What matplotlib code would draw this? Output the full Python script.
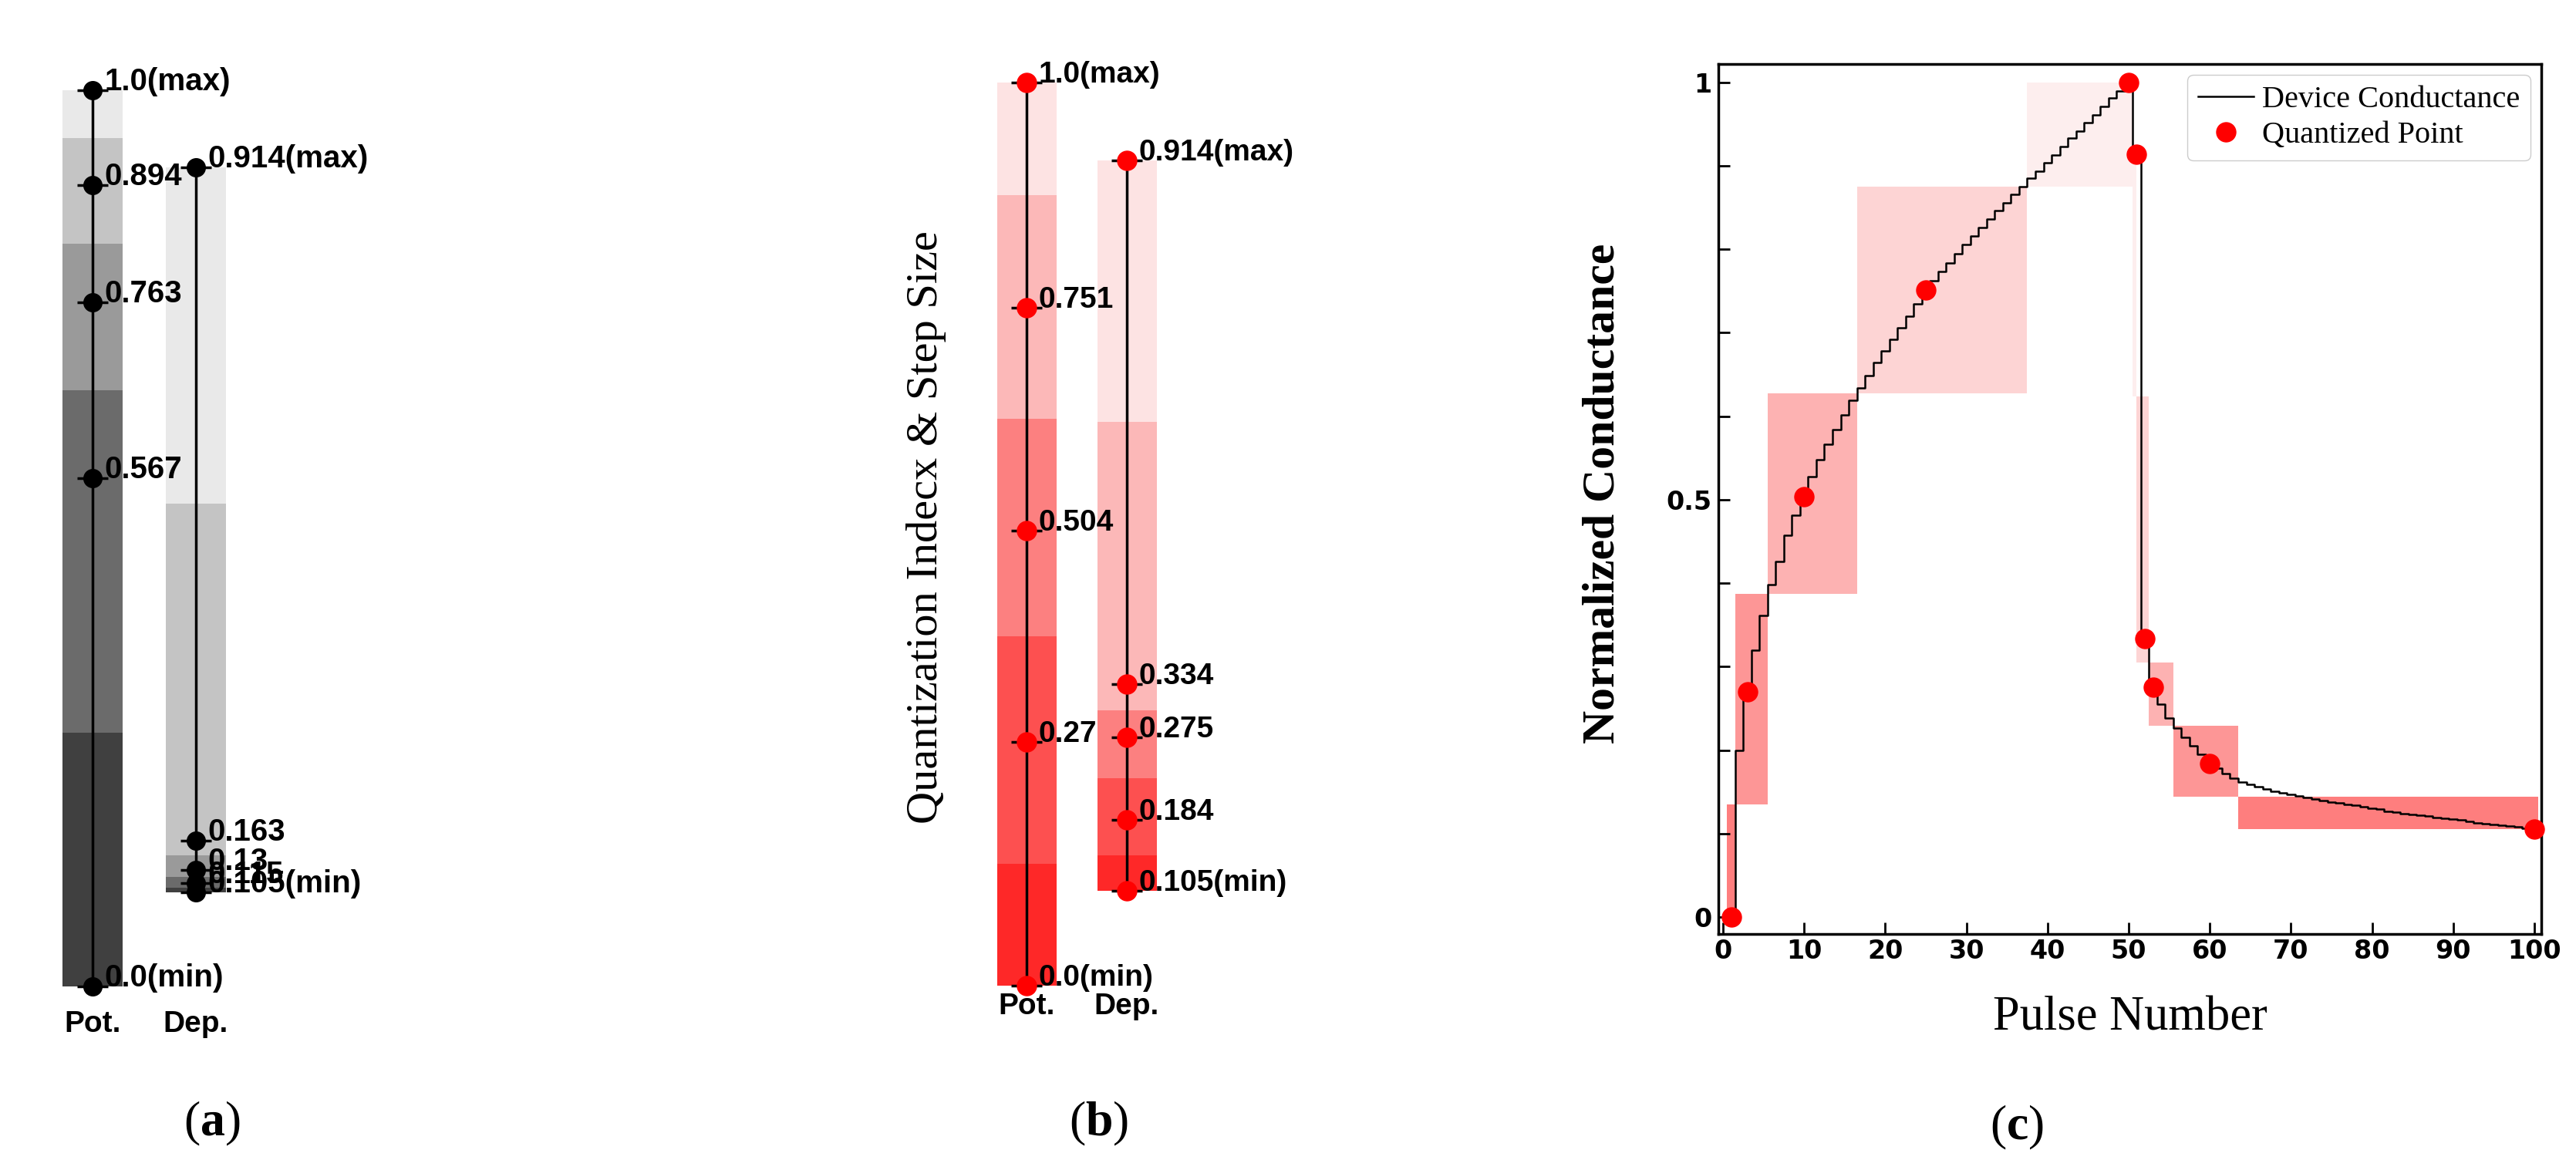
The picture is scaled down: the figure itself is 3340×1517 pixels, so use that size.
import matplotlib.pyplot as plt
import numpy as np
from matplotlib.ticker import MultipleLocator

plt.rcParams['mathtext.fontset'] = 'custom'
plt.rcParams['mathtext.rm'] = 'Liberation Serif'
plt.rcParams['mathtext.bf'] = 'Liberation Serif:bold'

# ---- data ----
# (a) uniform quantization levels
pot_levels_a = [1.0, 0.894, 0.763, 0.567, 0.0]
dep_levels_a = [0.914, 0.163, 0.13, 0.115, 0.105]
pot_labels_a = ['1.0(max)', '0.894', '0.763', '0.567', '0.0(min)']
dep_labels_a = ['0.914(max)', '0.163', '0.13', '0.115', '0.105(min)']

# (b) proposed quantization levels
pot_levels_b = [1.0, 0.751, 0.504, 0.27, 0.0]
dep_levels_b = [0.914, 0.334, 0.275, 0.184, 0.105]
pot_labels_b = ['1.0(max)', '0.751', '0.504', '0.27', '0.0(min)']
dep_labels_b = ['0.914(max)', '0.334', '0.275', '0.184', '0.105(min)']

# (c) device conductance per pulse
pulse_pot = list(range(1, 51))
g_pot = [0.0, 0.2, 0.27, 0.32, 0.361, 0.398, 0.426, 0.457, 0.481, 0.504,
         0.528, 0.548, 0.566, 0.584, 0.602, 0.619, 0.634, 0.649, 0.664, 0.678,
         0.692, 0.706, 0.72, 0.735, 0.751, 0.762, 0.773, 0.784, 0.795, 0.806,
         0.816, 0.826, 0.836, 0.846, 0.856, 0.866, 0.875, 0.885, 0.894, 0.904,
         0.913, 0.923, 0.933, 0.942, 0.952, 0.961, 0.971, 0.981, 0.99, 1.0]
pulse_dep = list(range(51, 101))
g_dep = [0.914, 0.334, 0.275, 0.255, 0.238, 0.226, 0.215, 0.205, 0.195, 0.184,
         0.178, 0.172, 0.166, 0.162, 0.159, 0.156, 0.153, 0.151, 0.149, 0.147,
         0.145, 0.143, 0.141, 0.14, 0.138, 0.137, 0.135, 0.134, 0.132, 0.13,
         0.129, 0.127, 0.126, 0.124, 0.123, 0.122, 0.121, 0.119, 0.118, 0.117,
         0.116, 0.115, 0.113, 0.112, 0.111, 0.11, 0.109, 0.108, 0.106, 0.105]
quant_pulses = [1, 3, 10, 25, 50, 51, 52, 53, 60, 100]
quant_g = [0.0, 0.27, 0.504, 0.751, 1.0, 0.914, 0.334, 0.275, 0.184, 0.105]
# pulse range covered by each quantization band (same order as levels)
pot_ranges = [(37.5, 50.5), (16.5, 37.5), (5.5, 16.5), (1.5, 5.5), (0.5, 1.5)]
dep_ranges = [(50.5, 51.0), (51.0, 52.5), (52.5, 55.5), (55.5, 63.5), (63.5, 100.5)]

gray_colors = ['#e9e9e9', '#c4c4c4', '#9a9a9a', '#6b6b6b', '#404040']
red_colors = ['#fde3e3', '#fcb8b8', '#fc8080', '#fd5050', '#fe2828']

W, H = 3341, 1517


def band_edges(levels):
    edges = []
    for i, v in enumerate(levels):
        top = v if i == 0 else (levels[i - 1] + v) / 2
        bot = v if i == len(levels) - 1 else (levels[i + 1] + v) / 2
        edges.append((bot, top))
    return edges


def quant_panel(ax, pots, deps, colors, mcolor, width, ms, fs):
    for xpos, (levels, labels) in enumerate([pots, deps]):
        for (bot, top), c in zip(band_edges(levels), colors):
            ax.bar(xpos, top - bot, bottom=bot, width=width, color=c, linewidth=0, zorder=1)
        ax.plot([xpos, xpos], [min(levels), max(levels)], color='k', lw=2.5, zorder=2, clip_on=False)
        ax.plot([xpos] * len(levels), levels, '_', color='k', ms=29, mew=2.5, zorder=3, clip_on=False)
        ax.plot([xpos] * len(levels), levels, 'o', color=mcolor, ms=ms, zorder=4, clip_on=False)
        for v, t in zip(levels, labels):
            ax.annotate(t, (xpos, v), xytext=(11, 0), textcoords='offset points',
                        ha='left', va='baseline', fontsize=fs, fontweight='bold',
                        family='Liberation Sans', zorder=5, annotation_clip=False)
    ax.set_ylim(0, 1)
    ax.axis('off')


fig = plt.figure(figsize=(W / 100, H / 100), dpi=100)

# (a)
ax_a = fig.add_axes([40 / W, 1 - 1279 / H, 420 / W, (1279 - 117) / H])
quant_panel(ax_a, (pot_levels_a, pot_labels_a), (dep_levels_a, dep_labels_a),
            gray_colors, 'k', 0.58, 17, 29)
ax_a.set_xlim((40 - 120) / 134, (460 - 120) / 134)

# (b)
ax_b = fig.add_axes([1250 / W, 1 - 1278 / H, 450 / W, (1278 - 107) / H])
quant_panel(ax_b, (pot_levels_b, pot_labels_b), (dep_levels_b, dep_labels_b),
            red_colors, 'red', 0.59, 18, 28)
ax_b.set_xlim((1250 - 1331.5) / 130, (1700 - 1331.5) / 130)

for xp, xd, y in [(120, 254, 1328), (1331, 1461, 1305)]:
    fig.text(xp / W, 1 - y / H, 'Pot.', ha='center', va='center', fontsize=28,
             fontweight='bold', family='Liberation Sans')
    fig.text(xd / W, 1 - y / H, 'Dep.', ha='center', va='center', fontsize=28,
             fontweight='bold', family='Liberation Sans')

fig.text(1201 / W, 1 - 684 / H, 'Quantization Indecx & Step Size', rotation=90,
         ha='center', va='center', fontsize=42, family='Liberation Serif')

# (c)
ax_c = fig.add_axes([2228 / W, 1 - 1211 / H, (3295 - 2228) / W, (1211 - 83) / H])
for ranges, levels in [(pot_ranges, pot_levels_b), (dep_ranges, dep_levels_b)]:
    for (x0, x1), (bot, top), c in zip(ranges, band_edges(levels), red_colors):
        ax_c.bar((x0 + x1) / 2, top - bot, bottom=bot, width=x1 - x0, color=c,
                 alpha=0.6, linewidth=0, zorder=1)
ax_c.step(pulse_pot + pulse_dep, g_pot + g_dep, where='mid', color='k', lw=1.8,
          zorder=2, label='Device Conductance')
ax_c.plot(quant_pulses, quant_g, 'o', color='red', ms=18, ls='none', zorder=3,
          clip_on=False, label='Quantized Point')
ax_c.set_xlim(-0.57, 100.86)
ax_c.set_ylim(-0.0203, 1.022)
ax_c.set_xticks(np.arange(0, 101, 10))
ax_c.set_yticks([0, 0.5, 1])
ax_c.set_yticklabels(['0', '0.5', '1'])
ax_c.yaxis.set_minor_locator(MultipleLocator(0.1))
ax_c.tick_params(which='both', direction='in', length=11, width=2)
ax_c.tick_params(axis='x', pad=4)
ax_c.tick_params(axis='y', pad=6)
for lab in ax_c.get_xticklabels() + ax_c.get_yticklabels():
    lab.set_fontsize(24)
    lab.set_fontweight('bold')
    lab.set_family('DejaVu Sans')
for sp in ax_c.spines.values():
    sp.set_linewidth(2.5)
ax_c.legend(loc='upper right', prop={'family': 'Liberation Serif', 'size': 29},
            handlelength=1.8, handletextpad=0.25, labelspacing=0.2, borderpad=0.35,
            borderaxespad=0.35, edgecolor='#cccccc', framealpha=1)

fig.text(2762 / W, 1 - 1321 / H, 'Pulse Number', ha='center', va='center',
         fontsize=45, family='Liberation Serif')
fig.text(2079 / W, 1 - 640 / H, 'Normalized Conductance', rotation=90, ha='center',
         va='center', fontsize=43, fontweight='bold', family='Liberation Serif')

# panel tags
for x, y, t in [(275, 1457, 'a'), (1425, 1457, 'b'), (2615, 1462, 'c')]:
    fig.text(x / W, 1 - y / H, r'$\mathrm{(}\mathbf{%s}\mathrm{)}$' % t, ha='center',
             va='center', fontsize=46)

fig.savefig('out.png', dpi=100, facecolor='white')
